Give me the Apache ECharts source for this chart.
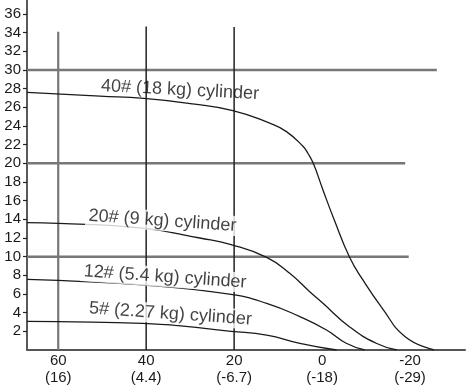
<!DOCTYPE html>
<html>
<head>
<meta charset="utf-8">
<script src="https://cdn.jsdelivr.net/npm/echarts@6/dist/echarts.min.js"></script>
<style>
html,body{margin:0;padding:0;background:#fff;}
#chart{width:470px;height:389px;}
</style>
</head>
<body>
<div id="chart"></div>
<script>
// Tick values and labels
const xTicks = [60, 40, 20, 0, -20];
const xTicksC = ['16', '4.4', '-6.7', '-18', '-29'];
const yTicks = [2,4,6,8,10,12,14,16,18,20,22,24,26,28,30,32,34,36];

// Curves: [temperature °F, value]
const curve40 = [[67.1,27.6],[50.5,27.2],[40.5,26.95],[30,26.4],[20.3,25.65],[11.9,24.3],[8.1,23.4],[4.3,21.8],[3.2,21.05],[2.0,20.0],[-0.2,17.15],[-2.8,13.9],[-6.2,10.0],[-9.2,7.57],[-13.7,4.47],[-18.9,1.43],[-25.5,0]];
const curve20 = [[67.1,13.64],[60,13.57],[40.8,13.05],[27.8,12.0],[20.7,11.3],[12.6,9.93],[7.3,8.2],[2.8,6.25],[-0.2,5.0],[-6.2,2.5],[-12.3,0.72],[-17.0,0]];
const curve12 = [[67.1,7.57],[60,7.45],[40.8,6.97],[20.7,5.95],[12.6,5.0],[5.05,3.57],[-1.0,2.14],[-5.5,0.72],[-9.7,0]];
const curve5 = [[67.1,3.07],[60,3.03],[40.8,2.86],[20.7,2.0],[12.6,1.6],[5.05,0.72],[-3.3,0]];

// Reference lines
const hLines = [[30, -26.1], [20, -18.9], [10, -19.7]];   // [y, right end x]
const vLines = [[60, 34.1], [40, 34.65], [20, 34.6]];     // [x, top y]

// Curve labels: [text, x, y]
const curveLabels = [
  ['40# (18 kg) cylinder', 32.3, 27.85],
  ['20# (9 kg) cylinder', 36.3, 13.83],
  ['12# (5.4 kg) cylinder', 35.7, 7.82],
  ['5# (2.27 kg) cylinder', 34.5, 3.86]
];

const X_MAX = 67.1, X_MIN = -32.5;
const FONT = '"Liberation Sans", Arial, Helvetica, sans-serif';

const series = [];
hLines.forEach(function (h) {
  series.push({type:'line', data:[[X_MAX,h[0]],[h[1],h[0]]], symbol:'none', silent:true,
    lineStyle:{color:'#777', width:2.5}, z:1});
});
vLines.forEach(function (v, i) {
  series.push({type:'line', data:[[v[0],0],[v[0],v[1]]], symbol:'none', silent:true,
    lineStyle:{color: i === 0 ? '#777' : '#222', width: i === 0 ? 2.2 : 1.5}, z:1});
});
[curve40, curve20, curve12, curve5].forEach(function (c) {
  series.push({type:'line', data:c, symbol:'none', smooth:0.5, silent:true,
    lineStyle:{color:'#1a1a1a', width:1.3}, z:2});
});
series.push({
  type:'scatter', symbolSize:1, symbol:'rect', itemStyle:{color:'rgba(0,0,0,0)'}, silent:true, z:10, zlevel:1,
  data: curveLabels.map(function (l, i) {
    return {value:[l[1], l[2]], name:l[0],
      label: i === 0 ? {rotate:-3, backgroundColor:'rgba(255,255,255,0)'} : {rotate:-4}};
  }),
  label:{show:true, position:'inside', formatter:'{b}', color:'#111',
    fontSize:18, fontFamily:FONT, padding:[1,3], backgroundColor:'#ffffff'}
});

const chart = echarts.init(document.getElementById('chart'), null, {renderer:'canvas'});
chart.setOption({
  animation:false,
  backgroundColor:'#fff',
  grid:{left:27, right:5, top:0, bottom:39},
  xAxis:{
    type:'value', inverse:true, min:X_MIN, max:X_MAX,
    splitLine:{show:false},
    axisLine:{show:true, onZero:false, lineStyle:{color:'#555', width:2}},
    axisTick:{show:false},
    axisLabel:{
      customValues:xTicks, margin:2, color:'#1a1a1a', fontSize:15, fontFamily:FONT,
      lineHeight:17, align:'center',
      formatter:function (v) {
        const i = xTicks.indexOf(v);
        return i < 0 ? '' : v + '\n(' + xTicksC[i] + ')';
      }
    }
  },
  yAxis:{
    type:'value', min:0, max:37.5,
    splitLine:{show:false},
    axisLine:{show:true, onZero:false, lineStyle:{color:'#222', width:1.5}},
    axisTick:{show:true, customValues:yTicks, length:4, lineStyle:{color:'#222', width:1.2}},
    axisLabel:{customValues:yTicks, margin:6, color:'#1a1a1a', fontSize:15, fontFamily:FONT}
  },
  series:series
});
</script>
</body>
</html>
